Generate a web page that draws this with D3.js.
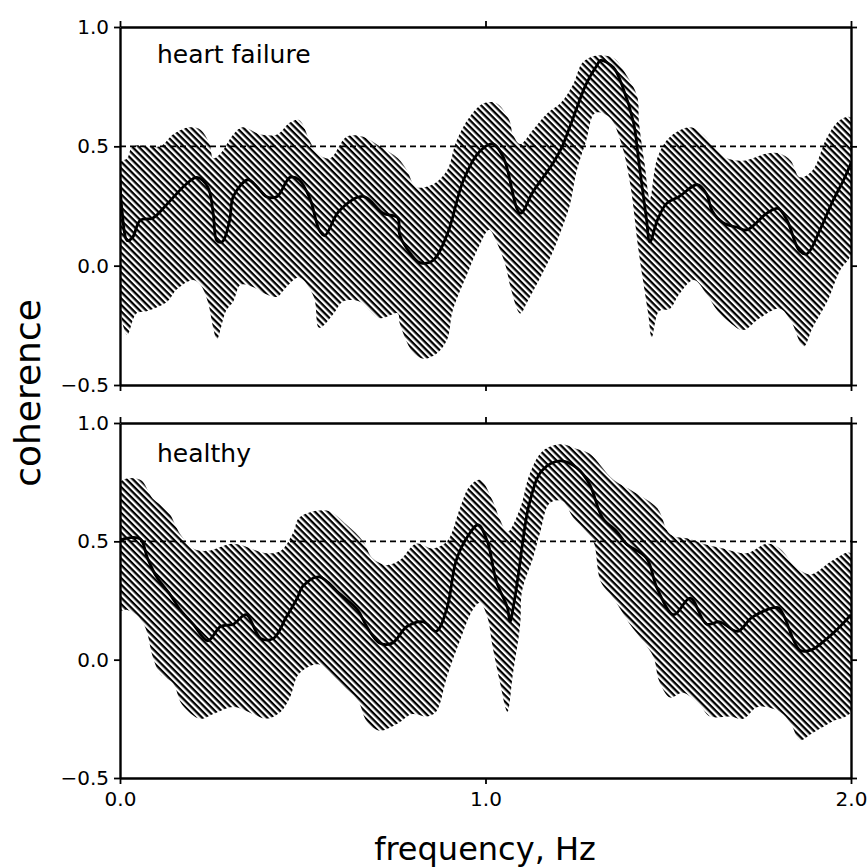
<!DOCTYPE html>
<html><head><meta charset="utf-8">
<script src="https://cdn.jsdelivr.net/npm/d3@7"></script>
<style>body{margin:0;background:#fff}</style>
</head><body>
<svg id="c" width="867" height="868"></svg>
<script>
// ---- data: [frequency (Hz), coherence] ----
const hfMean = [[0,0.36],[0.005,0.24],[0.02,0.105],[0.035,0.12],[0.055,0.19],[0.09,0.2],[0.13,0.26],[0.18,0.34],[0.21,0.37],[0.24,0.33],[0.255,0.22],[0.265,0.105],[0.28,0.1],[0.3,0.19],[0.31,0.29],[0.35,0.36],[0.375,0.33],[0.4,0.29],[0.43,0.29],[0.465,0.37],[0.49,0.36],[0.52,0.28],[0.545,0.15],[0.56,0.126],[0.6,0.23],[0.665,0.29],[0.72,0.22],[0.76,0.2],[0.765,0.13],[0.795,0.05],[0.82,0.013],[0.855,0.02],[0.895,0.13],[0.94,0.36],[0.985,0.48],[1.02,0.51],[1.05,0.45],[1.095,0.22],[1.13,0.31],[1.185,0.43],[1.21,0.5],[1.24,0.62],[1.275,0.76],[1.305,0.84],[1.315,0.86],[1.35,0.83],[1.375,0.75],[1.405,0.6],[1.42,0.43],[1.44,0.2],[1.45,0.1],[1.47,0.19],[1.495,0.26],[1.53,0.29],[1.58,0.34],[1.605,0.3],[1.62,0.23],[1.65,0.18],[1.69,0.16],[1.715,0.15],[1.77,0.22],[1.8,0.24],[1.825,0.19],[1.86,0.06],[1.88,0.05],[1.915,0.15],[1.95,0.27],[1.98,0.36],[2.0,0.43]];
const hfUpper = [[0,0.43],[0.02,0.45],[0.035,0.5],[0.11,0.5],[0.145,0.55],[0.19,0.58],[0.22,0.57],[0.245,0.51],[0.255,0.45],[0.275,0.47],[0.31,0.55],[0.335,0.58],[0.385,0.55],[0.43,0.55],[0.465,0.6],[0.49,0.61],[0.52,0.52],[0.54,0.47],[0.575,0.45],[0.62,0.54],[0.665,0.54],[0.71,0.5],[0.76,0.45],[0.785,0.4],[0.81,0.33],[0.855,0.34],[0.895,0.4],[0.92,0.52],[0.955,0.62],[0.995,0.68],[1.03,0.68],[1.065,0.61],[1.075,0.55],[1.095,0.51],[1.13,0.57],[1.17,0.64],[1.205,0.68],[1.24,0.76],[1.265,0.85],[1.3,0.88],[1.35,0.87],[1.385,0.8],[1.415,0.71],[1.42,0.6],[1.435,0.43],[1.45,0.28],[1.47,0.45],[1.505,0.54],[1.56,0.58],[1.595,0.55],[1.635,0.48],[1.66,0.45],[1.705,0.44],[1.77,0.47],[1.805,0.47],[1.835,0.44],[1.86,0.37],[1.895,0.4],[1.935,0.54],[1.97,0.61],[2.0,0.62]];
const hfLower = [[0,-0.13],[0.01,-0.26],[0.02,-0.29],[0.045,-0.2],[0.075,-0.19],[0.13,-0.15],[0.155,-0.1],[0.2,-0.06],[0.22,-0.08],[0.24,-0.15],[0.255,-0.26],[0.265,-0.31],[0.29,-0.19],[0.31,-0.15],[0.33,-0.08],[0.365,-0.09],[0.4,-0.12],[0.43,-0.13],[0.455,-0.09],[0.49,-0.05],[0.53,-0.13],[0.545,-0.26],[0.585,-0.2],[0.61,-0.15],[0.655,-0.15],[0.71,-0.22],[0.76,-0.2],[0.765,-0.24],[0.8,-0.36],[0.83,-0.39],[0.865,-0.37],[0.895,-0.31],[0.91,-0.19],[0.95,-0.035],[0.985,0.09],[1.01,0.15],[1.03,0.1],[1.055,0.0],[1.07,-0.1],[1.095,-0.2],[1.115,-0.15],[1.15,-0.05],[1.185,0.06],[1.21,0.16],[1.23,0.25],[1.25,0.4],[1.275,0.52],[1.3,0.64],[1.34,0.62],[1.37,0.52],[1.395,0.35],[1.42,0.05],[1.445,-0.2],[1.455,-0.3],[1.475,-0.19],[1.505,-0.18],[1.53,-0.12],[1.57,-0.06],[1.605,-0.12],[1.635,-0.19],[1.67,-0.24],[1.705,-0.27],[1.75,-0.22],[1.805,-0.18],[1.835,-0.23],[1.87,-0.34],[1.895,-0.26],[1.935,-0.15],[1.97,-0.02],[2.0,0.05]];

const hMean = [[0,0.5],[0.01,0.51],[0.055,0.51],[0.075,0.43],[0.1,0.35],[0.135,0.28],[0.165,0.21],[0.2,0.15],[0.24,0.08],[0.275,0.14],[0.31,0.15],[0.345,0.19],[0.385,0.09],[0.42,0.09],[0.455,0.18],[0.485,0.26],[0.5,0.31],[0.545,0.35],[0.6,0.28],[0.65,0.21],[0.675,0.14],[0.71,0.07],[0.745,0.07],[0.785,0.14],[0.83,0.16],[0.865,0.12],[0.895,0.22],[0.92,0.42],[0.955,0.53],[0.98,0.57],[1.005,0.5],[1.03,0.33],[1.06,0.22],[1.067,0.16],[1.078,0.24],[1.09,0.36],[1.12,0.66],[1.155,0.8],[1.205,0.84],[1.25,0.81],[1.285,0.74],[1.32,0.6],[1.36,0.54],[1.385,0.49],[1.44,0.43],[1.47,0.3],[1.515,0.19],[1.56,0.26],[1.605,0.15],[1.64,0.16],[1.69,0.12],[1.73,0.18],[1.8,0.22],[1.815,0.19],[1.86,0.04],[1.89,0.04],[1.935,0.09],[1.97,0.14],[2.0,0.19]];
const hUpper = [[0,0.75],[0.055,0.76],[0.09,0.68],[0.13,0.63],[0.165,0.53],[0.2,0.47],[0.24,0.46],[0.31,0.49],[0.4,0.45],[0.44,0.46],[0.475,0.54],[0.49,0.6],[0.565,0.63],[0.62,0.57],[0.665,0.5],[0.69,0.43],[0.73,0.4],[0.765,0.42],[0.81,0.49],[0.855,0.47],[0.895,0.5],[0.93,0.64],[0.955,0.73],[0.985,0.76],[1.02,0.67],[1.04,0.59],[1.06,0.54],[1.095,0.64],[1.12,0.78],[1.155,0.88],[1.205,0.91],[1.25,0.89],[1.285,0.87],[1.35,0.76],[1.405,0.71],[1.47,0.64],[1.505,0.53],[1.56,0.51],[1.595,0.49],[1.65,0.47],[1.715,0.45],[1.77,0.49],[1.805,0.47],[1.85,0.39],[1.89,0.36],[1.95,0.42],[2.0,0.45]];
const hLower = [[0,0.21],[0.02,0.21],[0.045,0.19],[0.065,0.15],[0.075,0.11],[0.09,0.01],[0.11,-0.06],[0.145,-0.1],[0.17,-0.19],[0.22,-0.25],[0.255,-0.23],[0.31,-0.2],[0.365,-0.23],[0.4,-0.25],[0.44,-0.22],[0.465,-0.16],[0.49,-0.06],[0.545,-0.02],[0.6,-0.1],[0.65,-0.17],[0.675,-0.26],[0.71,-0.3],[0.76,-0.27],[0.8,-0.23],[0.84,-0.24],[0.865,-0.22],[0.895,-0.07],[0.93,0.08],[0.965,0.21],[0.985,0.24],[1.005,0.18],[1.02,0.05],[1.04,-0.1],[1.06,-0.22],[1.075,-0.06],[1.095,0.15],[1.1,0.29],[1.13,0.43],[1.15,0.54],[1.175,0.66],[1.21,0.67],[1.24,0.6],[1.265,0.56],[1.295,0.5],[1.315,0.33],[1.35,0.26],[1.395,0.15],[1.43,0.08],[1.46,0.01],[1.475,-0.09],[1.505,-0.16],[1.54,-0.14],[1.585,-0.19],[1.615,-0.24],[1.67,-0.24],[1.705,-0.25],[1.745,-0.2],[1.805,-0.22],[1.835,-0.27],[1.86,-0.34],[1.895,-0.31],[1.95,-0.26],[2.0,-0.22]];

const yTicks = [-0.5, 0.0, 0.5, 1.0];
const xTicks = [0.0, 1.0, 2.0];
const refLevel = 0.5;
const panelNames = ["heart failure", "healthy"];
const xTitle = "frequency, Hz";
const yTitle = "coherence";

// ---- drawing ----
const FONT = "'DejaVu Sans', sans-serif";
const svg = d3.select("#c");
const x = d3.scaleLinear().domain([0, 2]).range([120, 851]);

const panels = [
  {name: panelNames[0], mean: hfMean, upper: hfUpper, lower: hfLower,
   y: d3.scaleLinear().domain([-0.5, 1]).range([385, 27]), showX: false},
  {name: panelNames[1], mean: hMean, upper: hUpper, lower: hLower,
   y: d3.scaleLinear().domain([-0.5, 1]).range([778, 423]), showX: true}
];

const defs = svg.append("defs");
const pat = defs.append("pattern").attr("id", "hatch")
  .attr("patternUnits", "userSpaceOnUse").attr("width", 10).attr("height", 4.6)
  .attr("patternTransform", "rotate(45)");
pat.append("rect").attr("x", 0).attr("y", 0).attr("width", 10).attr("height", 2.3).attr("fill", "#000");

panels.forEach((p, i) => {
  const y = p.y;
  const [y0, y1] = y.range();
  const cid = "clip" + i;
  defs.append("clipPath").attr("id", cid).append("rect")
    .attr("x", x(0)).attr("y", y1).attr("width", x(2) - x(0)).attr("height", y0 - y1);

  const g = svg.append("g");
  const plot = g.append("g").attr("clip-path", `url(#${cid})`);

  // band polygon: upper edge forward, lower edge back
  const poly = p.upper.concat(p.lower.slice().reverse());
  const bandLine = d3.line().x(d => x(d[0])).y(d => y(d[1])).curve(d3.curveCatmullRomClosed.alpha(0.5));
  plot.append("path").attr("d", bandLine(poly)).attr("fill", "url(#hatch)");

  // reference dashed line
  plot.append("line").attr("x1", x(0)).attr("x2", x(2)).attr("y1", y(refLevel)).attr("y2", y(refLevel))
    .attr("stroke", "#000").attr("stroke-width", 1.7).attr("stroke-dasharray", "6,4");

  // mean curve
  const meanLine = d3.line().x(d => x(d[0])).y(d => y(d[1])).curve(d3.curveCatmullRom.alpha(0.5));
  plot.append("path").attr("d", meanLine(p.mean)).attr("fill", "none")
    .attr("stroke", "#000").attr("stroke-width", 2.8).attr("stroke-linejoin", "round");

  // axes
  const fmt = d3.format(".1f");
  const left = g.append("g").attr("transform", `translate(${x(0)},0)`)
    .call(d3.axisLeft(y).tickValues(yTicks).tickFormat(fmt).tickSize(6).tickSizeOuter(0).tickPadding(5));
  const right = g.append("g").attr("transform", `translate(${x(2)},0)`)
    .call(d3.axisRight(y).tickValues(yTicks).tickFormat("").tickSize(6).tickSizeOuter(0));
  const top = g.append("g").attr("transform", `translate(0,${y1})`)
    .call(d3.axisTop(x).tickValues(xTicks).tickFormat("").tickSize(6).tickSizeOuter(0));
  const bottom = g.append("g").attr("transform", `translate(0,${y0})`)
    .call(d3.axisBottom(x).tickValues(xTicks).tickFormat(p.showX ? fmt : "").tickSize(6).tickSizeOuter(0).tickPadding(8));
  [left, right, top, bottom].forEach(a => {
    a.select(".domain").attr("stroke-width", 2.4).attr("stroke", "#000");
    a.selectAll(".tick line").attr("stroke-width", 1.8).attr("stroke", "#000");
    a.selectAll("text").attr("font-family", FONT).attr("font-size", 20).attr("fill", "#000");
  });

  g.append("text").attr("x", 157).attr("y", y(1) + (i === 0 ? 36 : 39))
    .attr("font-family", FONT).attr("font-size", 25).attr("fill", "#000").text(p.name);
});

svg.append("text").attr("x", 485).attr("y", 860).attr("text-anchor", "middle")
  .attr("font-family", FONT).attr("font-size", 32).attr("fill", "#000").text(xTitle);
svg.append("text").attr("transform", "translate(40,393) rotate(-90)").attr("text-anchor", "middle")
  .attr("font-family", FONT).attr("font-size", 36).attr("fill", "#000").text(yTitle);
</script>
</body></html>
